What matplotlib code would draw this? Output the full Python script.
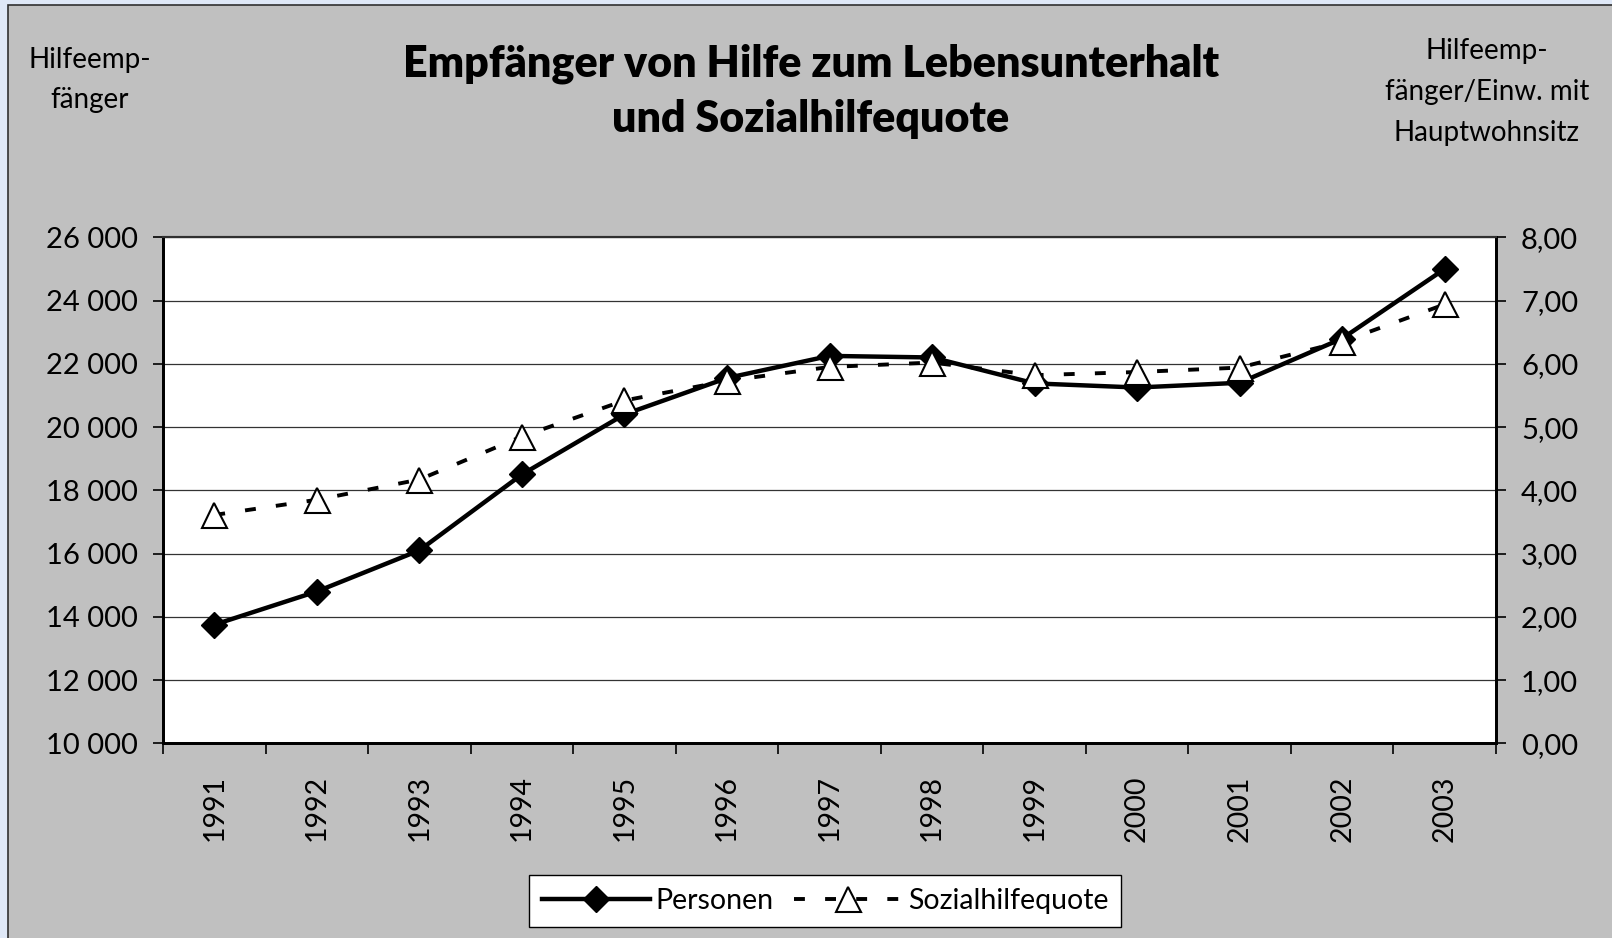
import matplotlib
matplotlib.use('Agg')
from matplotlib import pyplot as plt
from matplotlib.patches import Rectangle
from matplotlib.ticker import FuncFormatter, MultipleLocator
import numpy as np

plt.rcParams['font.family'] = ['Lato', 'DejaVu Sans']

# Daten
jahre = ['1991', '1992', '1993', '1994', '1995', '1996', '1997',
         '1998', '1999', '2000', '2001', '2002', '2003']
personen = [13750, 14800, 16100, 18500, 20400, 21550, 22250,
            22200, 21380, 21250, 21400, 22800, 25000]
quote = [3.61, 3.85, 4.17, 4.85, 5.42, 5.73, 5.95,
         6.02, 5.82, 5.87, 5.94, 6.35, 6.94]

W, H = 1612, 938


def fx(px):
    return px / W


def fy(py):
    return 1 - py / H


fig = plt.figure(figsize=(W / 100, H / 100), dpi=100)
fig.patch.set_facecolor('#dfe8f7')
# grauer Hintergrund mit dunklem Rand
fig.patches.append(Rectangle((fx(8), -0.01), 1.0, fy(5) + 0.01, transform=fig.transFigure,
                             facecolor='#c0c0c0', edgecolor='#303030', linewidth=1.2, zorder=-5))

ax = fig.add_axes([fx(163), fy(743.3), fx(1496) - fx(163), fy(237.3) - fy(743.3)])
ax.set_facecolor('white')
x = np.arange(len(jahre))

ax.plot(x, personen, color='black', linewidth=3.2, marker='D', markersize=13,
        markerfacecolor='black', markeredgecolor='black', label='Personen', zorder=3)
ax.set_xlim(-0.5, len(jahre) - 0.5)
ax.set_ylim(10000, 26000)
ax.yaxis.set_major_locator(MultipleLocator(2000))
ax.yaxis.set_major_formatter(FuncFormatter(lambda v, p: f'{int(v):,}'.replace(',', ' ')))
ax.grid(axis='y', color='#333333', linewidth=0.9)
ax.set_axisbelow(True)

ax.set_xticks(x)
ax.set_xticklabels(jahre, rotation=90, va='top')
ax.set_xticks(np.arange(-0.5, len(jahre)), minor=True)
ax.tick_params(axis='x', which='major', length=0, pad=23, labelsize=20.5)
ax.tick_params(axis='x', which='minor', length=8, width=1.2, direction='out')
ax.tick_params(axis='y', length=7, width=1.2, pad=11, labelsize=21)

ax2 = ax.twinx()
ax2.plot(x, quote, color='black', linewidth=2.8, dashes=(2.8, 5.2), marker='^', markersize=18,
         markerfacecolor='white', markeredgecolor='black', markeredgewidth=1.5,
         label='Sozialhilfequote', zorder=3)
ax2.set_ylim(0, 8)
ax2.yaxis.set_major_locator(MultipleLocator(1))
ax2.yaxis.set_major_formatter(FuncFormatter(lambda v, p: f'{v:.2f}'.replace('.', ',')))
ax2.tick_params(axis='y', length=7, width=1.2, pad=11, labelsize=21)

for a in (ax, ax2):
    for s in ('left', 'bottom', 'right'):
        a.spines[s].set_linewidth(2.0)
        a.spines[s].set_color('black')
    a.spines['top'].set_linewidth(1.5)
    a.spines['top'].set_color('#303030')

# Titel und Achsenbeschriftungen
fig.text(fx(811), fy(91), 'Empfänger von Hilfe zum Lebensunterhalt\nund Sozialhilfequote',
         ha='center', va='center', fontsize=31, fontweight='heavy', linespacing=1.45)
fig.text(fx(90), fy(80), 'Hilfeemp-\nfänger', ha='center', va='center', fontsize=20,
         linespacing=1.7)
fig.text(fx(1487), fy(92), 'Hilfeemp-\nfänger/Einw. mit\nHauptwohnsitz', ha='center',
         va='center', fontsize=20, linespacing=1.7)

h1, l1 = ax.get_legend_handles_labels()
h2, l2 = ax2.get_legend_handles_labels()
leg = fig.legend(h1 + h2, l1 + l2, loc='center', bbox_to_anchor=(fx(825), fy(901)), ncol=2,
                 fontsize=20.5, frameon=True, fancybox=False, edgecolor='black',
                 facecolor='white', framealpha=1, handlelength=3.8, columnspacing=0.7,
                 handletextpad=0.2, borderpad=0.45, borderaxespad=0)
leg.get_frame().set_linewidth(1.0)

plt.savefig('out.png', dpi=100, facecolor=fig.get_facecolor())
